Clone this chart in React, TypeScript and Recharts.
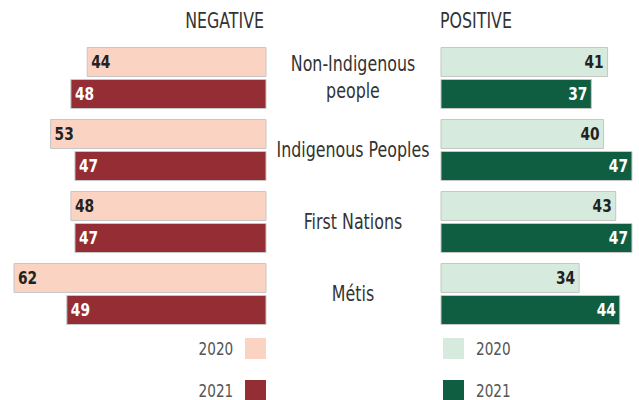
import { BarChart, Bar, XAxis, YAxis, LabelList } from "recharts";

const groups = ["Non-Indigenous people", "Indigenous Peoples", "First Nations", "Métis"];
const negative2020 = [44, 53, 48, 62];
const negative2021 = [48, 47, 47, 49];
const positive2020 = [41, 40, 43, 34];
const positive2021 = [37, 47, 47, 44];
const years = ["2020", "2021"];

const font = '"Liberation Sans Narrow", "DejaVu Sans Condensed", "Roboto Condensed", sans-serif';

const negColors = ["#fbd3c2", "#952e34"];
const posColors = ["#d6ebdd", "#0f5e41"];
const labelColors = ["#222222", "#ffffff"];

const negData = groups.map((g, i) => ({ group: g, y2020: negative2020[i], y2021: negative2021[i] }));
const posData = groups.map((g, i) => ({ group: g, y2020: positive2020[i], y2021: positive2021[i] }));

// squeeze a bit horizontally, the original uses a narrow face
const narrow = 0.84;

const valueLabel = (side: "neg" | "pos", color: string) => (props: any) => {
  const x = Number(props.x);
  const w = Number(props.width);
  const y = Number(props.y);
  const h = Number(props.height);
  const left = Math.min(x, x + w);
  const right = Math.max(x, x + w);
  const tx = side === "neg" ? left + 4 : right - 4;
  return (
    <text
      transform={`translate(${tx},${y + h / 2}) scale(0.9,1)`}
      x={0}
      y={0}
      dy="0.36em"
      textAnchor={side === "neg" ? "start" : "end"}
      fill={color}
      fontSize={17}
      fontWeight="bold"
      fontFamily={font}
    >
      {props.value}
    </text>
  );
};

const GroupTick = (props: any) => {
  const label: string = props.payload.value;
  let lines = [label];
  if (label.length > 18) {
    const cut = label.lastIndexOf(" ");
    lines = [label.slice(0, cut), label.slice(cut + 1)];
  }
  const y = Number(props.y);
  return (
    <text
      transform={`translate(87,${y}) scale(${narrow},1)`}
      x={0}
      y={0}
      textAnchor="middle"
      fill="#333333"
      fontSize={21}
      fontFamily={font}
    >
      {lines.map((l, i) => (
        <tspan key={i} x={0} dy={i === 0 ? (lines.length === 1 ? "0.36em" : "-0.3em") : "1.3em"}>
          {l}
        </tspan>
      ))}
    </text>
  );
};

const chartMargin = { top: 41.5, bottom: 10.5 };

function LegendItem({ side, idx, top }: { side: "neg" | "pos"; idx: number; top: number }) {
  const colors = side === "neg" ? negColors : posColors;
  return (
    <div
      style={{
        position: "absolute",
        top,
        left: side === "neg" ? 150 : 443,
        width: 116,
        height: 21,
        display: "flex",
        flexDirection: side === "neg" ? "row" : "row-reverse",
        justifyContent: "flex-end",
        alignItems: "center",
        gap: 12,
      }}
    >
      <span
        style={{
          fontFamily: font,
          fontSize: 18,
          color: "#555555",
          display: "inline-block",
          transform: `scaleX(${narrow})`,
          transformOrigin: side === "neg" ? "right center" : "left center",
        }}
      >
        {years[idx]}
      </span>
      <span style={{ width: 21, height: 21, background: colors[idx], display: "inline-block" }} />
    </div>
  );
}

const titleStyle = {
  position: "absolute" as const,
  top: 8,
  fontFamily: font,
  fontSize: 22,
  color: "#333",
};

export default function App() {
  return (
    <div style={{ position: "absolute", left: 0, top: 0, width: 639, height: 400, background: "#fff", overflow: "hidden" }}>
      <div style={{ ...titleStyle, left: 100, width: 164, textAlign: "right", transform: "scaleX(0.8)", transformOrigin: "right center" }}>
        NEGATIVE
      </div>
      <div style={{ ...titleStyle, left: 440, transform: "scaleX(0.8)", transformOrigin: "left center" }}>
        POSITIVE
      </div>

      <div style={{ position: "absolute", left: 0, top: 0 }}>
        <BarChart
          width={270}
          height={340}
          data={negData}
          layout="vertical"
          margin={{ ...chartMargin, left: 14, right: 4 }}
          barGap={3}
        >
          <XAxis type="number" domain={[0, 62]} reversed hide />
          <YAxis type="category" dataKey="group" hide />
          {["y2020", "y2021"].map((k, i) => (
            <Bar key={k} dataKey={k} barSize={29} fill={negColors[i]} stroke="#c6c6c6" strokeWidth={1} isAnimationActive={false}>
              <LabelList dataKey={k} content={valueLabel("neg", labelColors[i])} />
            </Bar>
          ))}
        </BarChart>
      </div>

      <div style={{ position: "absolute", left: 266, top: 0 }}>
        <BarChart
          width={373}
          height={340}
          data={posData}
          layout="vertical"
          margin={{ ...chartMargin, left: 0, right: 5 }}
          barGap={3}
        >
          <XAxis type="number" domain={[0, 47.5]} hide />
          <YAxis type="category" dataKey="group" width={175} axisLine={false} tickLine={false} tick={<GroupTick />} />
          {["y2020", "y2021"].map((k, i) => (
            <Bar key={k} dataKey={k} barSize={29} fill={posColors[i]} stroke="#c6c6c6" strokeWidth={1} isAnimationActive={false}>
              <LabelList dataKey={k} content={valueLabel("pos", labelColors[i])} />
            </Bar>
          ))}
        </BarChart>
      </div>

      <LegendItem side="neg" idx={0} top={338} />
      <LegendItem side="neg" idx={1} top={380} />
      <LegendItem side="pos" idx={0} top={338} />
      <LegendItem side="pos" idx={1} top={380} />
    </div>
  );
}
